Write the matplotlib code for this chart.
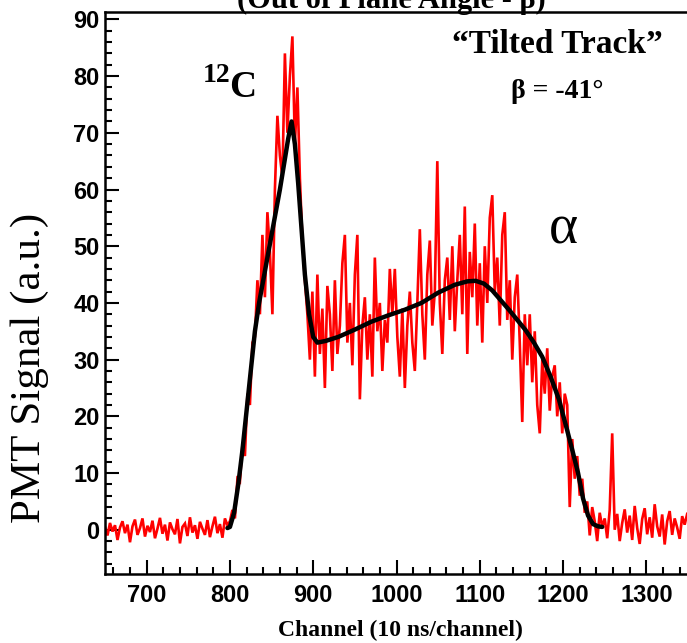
import numpy as np
import matplotlib
matplotlib.use("Agg")
import matplotlib.pyplot as plt
from matplotlib.ticker import MultipleLocator

# ---- data ----
chan_start = 650
chan_step = 3
signal = [
    # 650-677
    0.5, -1.0, 1.2, -0.3, 0.8, -1.8, 0.4, 1.5, -0.6, 0.9,
    # 680-707
    -2.2, 0.6, 1.8, -0.9, 0.3, 2.0, -1.2, 0.7, -0.4, 1.6,
    # 710-737
    -1.5, 0.2, 2.1, -0.7, 0.9, -1.9, 1.3, 0.1, -0.8, 1.9,
    # 740-767
    -2.4, 0.5, 1.1, -1.1, 2.2, -0.5, 0.8, -1.6, 1.4, 0.2,
    # 770-797
    -0.9, 1.7, -1.3, 0.6, 2.3, -0.6, 1.0, -1.4, 2.0, 0.8,
    # 800-827
    1.5, 3.5, 2.0, 9.0, 8.5, 15.0, 13.0, 24.0, 22.0, 33.0,
    # 830-857
    34.0, 44.0, 38.0, 52.0, 41.0, 56.0, 49.0, 38.0, 60.0, 73.0,
    # 860-887
    66.0, 62.0, 84.0, 70.0, 80.0, 87.0, 68.0, 78.0, 62.0, 51.0,
    # 890-917
    44.0, 38.0, 30.0, 42.0, 27.0, 45.0, 31.0, 39.0, 25.0, 43.0,
    # 920-947
    38.0, 28.0, 44.0, 31.0, 36.0, 47.0, 52.0, 33.0, 40.0, 29.0,
    # 950-977
    45.0, 52.0, 23.0, 36.0, 41.0, 30.0, 38.0, 27.0, 48.0, 35.0,
    # 980-1007
    40.0, 28.0, 37.0, 33.0, 46.0, 38.0, 46.0, 34.0, 27.0, 39.0,
    # 1010-1037
    25.0, 36.0, 42.0, 33.0, 28.0, 40.0, 53.0, 38.0, 30.0, 45.0,
    # 1040-1067
    51.0, 36.0, 42.0, 65.0, 40.0, 31.0, 44.0, 48.0, 37.0, 50.0,
    # 1070-1097
    35.0, 44.0, 52.0, 38.0, 57.0, 31.0, 49.0, 41.0, 54.0, 36.0,
    # 1100-1127
    47.0, 33.0, 50.0, 40.0, 55.0, 59.0, 42.0, 48.0, 36.0, 52.0,
    # 1130-1157
    56.0, 37.0, 44.0, 30.0, 41.0, 45.0, 33.0, 19.0, 38.0, 29.0,
    # 1160-1187
    38.0, 26.0, 35.0, 22.0, 17.0, 30.0, 24.0, 32.0, 21.0, 27.0,
    # 1190-1217
    29.0, 20.0, 26.0, 17.0, 24.0, 22.0, 4.0, 16.0, 9.0, 13.0,
    # 1220-1247
    6.0, 9.0, 3.0, 5.0, -1.0, 4.0, 1.5, -2.0, 3.0, 0.5,
    # 1250-1277
    2.0, -1.5, 3.5, 17.0, 0.0, 2.8, -2.0, 1.2, 3.6, -0.5,
    # 1280-1307
    2.5, -1.8, 4.2, 0.3, -2.5, 1.9, 3.8, -0.8, 2.2, -1.4,
    # 1310-1337
    4.5, 0.6, -1.2, 2.7, -2.6, 1.5, 3.3, -0.9, 2.0, 0.4,
    # 1340-1349
    -1.6, 2.4, 0.9, 2.8,
]

fit_ch = [797, 800, 805, 810, 815, 820, 825, 830, 835, 840, 850, 860, 870,
          874, 878, 882, 886, 890, 895, 900, 905, 915, 930, 950, 970, 990,
          1010, 1030, 1050, 1070, 1085, 1095, 1105, 1115, 1125, 1135, 1145,
          1155, 1165, 1175, 1185, 1195, 1205, 1212, 1218, 1224, 1230, 1236,
          1242, 1247]
fit_val = [0.3, 0.5, 3.0, 8.0, 14.0, 21.0, 28.0, 35.0, 40.0, 44.0, 52.0,
           60.0, 69.0, 72.0, 68.0, 61.0, 53.0, 45.0, 38.0, 34.0, 33.0, 33.3,
           34.0, 35.3, 36.7, 37.8, 38.8, 40.0, 41.8, 43.2, 43.8, 43.9, 43.4,
           42.2, 40.5, 38.8, 37.0, 35.2, 33.0, 30.5, 27.0, 23.0, 17.5, 13.5,
           10.0, 5.5, 2.5, 1.0, 0.6, 0.5]

x_ticks = [700, 800, 900, 1000, 1100, 1200, 1300]
y_ticks = [0, 10, 20, 30, 40, 50, 60, 70, 80, 90]

channels = chan_start + chan_step * np.arange(len(signal))

W, H = 687, 643
fig = plt.figure(figsize=(W / 100, H / 100), dpi=100)
ax = fig.add_axes([105 / W, 1 - 574 / H, (688 - 105) / W, (574 - 12) / H])

ax.plot(channels, signal, color="#ff0000", lw=1.9, zorder=2,
        solid_joinstyle="miter")
ax.plot(fit_ch, fit_val, color="black", lw=3.2, zorder=3,
        solid_capstyle="round", solid_joinstyle="round")

ax.set_xlim(650, 1350)
ax.set_ylim(-7.8, 91.3)
ax.set_xticks(x_ticks)
ax.set_yticks(y_ticks)
ax.xaxis.set_minor_locator(MultipleLocator(20))
ax.yaxis.set_minor_locator(MultipleLocator(2))
ax.tick_params(which="both", direction="in", top=False, right=False,
               width=1.5, colors="black")
ax.tick_params(which="major", length=10)
ax.tick_params(which="minor", length=5)
ax.tick_params(axis="x", pad=7)
ax.tick_params(axis="y", pad=4)
for lab in ax.get_xticklabels() + ax.get_yticklabels():
    lab.set_fontfamily("Liberation Sans")
    lab.set_fontweight("bold")
    lab.set_fontsize(17)
for sp in ax.spines.values():
    sp.set_linewidth(1.8)

def ftext(x, y, s, **kw):
    fig.text(x / W, 1 - y / H, s, **kw)

serif = "Liberation Serif"
ftext(400, 636, "Channel (10 ns/channel)", family=serif, weight="bold",
      size=17, ha="center", va="baseline")
ftext(30, 368, "PMT Signal (a.u.)", family=serif, size=31, rotation=90,
      ha="center", va="center")
ftext(391, 8, "(Out of Plane Angle - \u03b2)", family=serif, weight="bold",
      size=22, ha="center", va="baseline")
ftext(557, 53, "\u201cTilted Track\u201d", family=serif, weight="bold",
      size=24, ha="center", va="baseline")
ftext(557, 98, "\u03b2 = -41\u00b0", family=serif, weight="bold",
      size=20, ha="center", va="baseline")
ftext(203, 82, "12", family=serif, weight="bold", size=20, ha="left",
      va="baseline")
ftext(229, 97, "C", family=serif, weight="bold", size=27, ha="left",
      va="baseline")
ftext(563, 243, "\u03b1", family=serif, size=40, ha="center", va="baseline")

fig.savefig("out.png", dpi=100)
